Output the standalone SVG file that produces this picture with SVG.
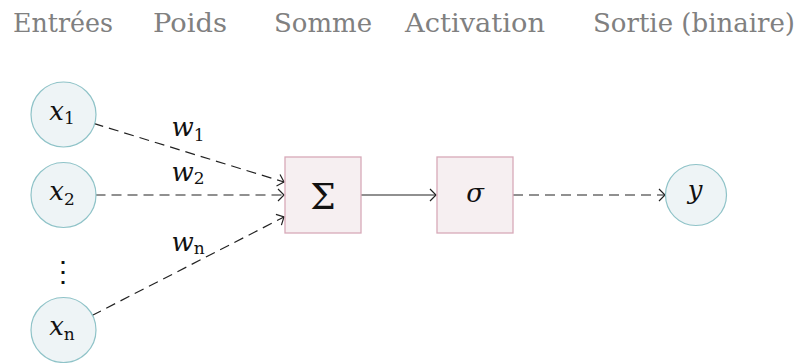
<svg xmlns="http://www.w3.org/2000/svg" width="799" height="363" viewBox="0 0 799 363">
<style>
text{font-family:'DejaVu Serif',serif}
.hdr{font-size:26px;fill:#808080;text-anchor:middle}
.m{font-style:italic;font-size:26px;fill:#111;text-anchor:middle}
.sub{font-style:normal;font-size:17px}
.inp{fill:#eef4f6;stroke:#8fc3c8;stroke-width:1.2}
.box{fill:#f6eff1;stroke:#d8a9b8;stroke-width:1.3}
.edge{fill:none;stroke:#222;stroke-width:1.2}
.dash{stroke-dasharray:10 6}
</style>
<defs>
<marker id="to" markerUnits="userSpaceOnUse" markerWidth="14" markerHeight="16" viewBox="-8 -8 10 16" refX="0" refY="0" orient="auto">
<path d="M -6 -6 Q -1.5 -1.5 0 0 Q -1.5 1.5 -6 6" fill="none" stroke="#222" stroke-width="1.2" stroke-dasharray="none"/>
</marker>
</defs>
<g id="headers">
<text class="hdr" x="63" y="32" textLength="100" lengthAdjust="spacingAndGlyphs">Entrées</text>
<text class="hdr" x="190" y="32" textLength="74" lengthAdjust="spacingAndGlyphs">Poids</text>
<text class="hdr" x="323" y="32" textLength="98" lengthAdjust="spacingAndGlyphs">Somme</text>
<text class="hdr" x="475" y="32" textLength="140" lengthAdjust="spacingAndGlyphs">Activation</text>
<text class="hdr" x="694" y="32" textLength="202" lengthAdjust="spacingAndGlyphs">Sortie (binaire)</text>
</g>
<g id="connectors">
<path class="edge dash" d="M 93.6 123.4 L 284 182" marker-end="url(#to)"/>
<path class="edge dash" d="M 95.5 195 L 284 195" marker-end="url(#to)"/>
<path class="edge dash" d="M 92 315.5 L 284 217" marker-end="url(#to)"/>
<path class="edge" d="M 361 195 L 436 195" marker-end="url(#to)"/>
<path class="edge dash" d="M 513 195 L 665 195" marker-end="url(#to)"/>
<text class="m" x="188" y="136">w<tspan class="sub" dy="5">1</tspan></text>
<text class="m" x="188" y="181">w<tspan class="sub" dy="3">2</tspan></text>
<text class="m" x="188" y="251">w<tspan class="sub" dy="3">n</tspan></text>
</g>
<g id="x1">
<circle class="inp" cx="63.5" cy="114.5" r="32.5"/>
<text class="m" x="62" y="119.5">x<tspan class="sub" dy="4.5">1</tspan></text>
</g>
<g id="x2">
<circle class="inp" cx="63.5" cy="195" r="32.5"/>
<text class="m" x="62" y="200">x<tspan class="sub" dy="4.5">2</tspan></text>
</g>
<g id="vdots">
<text x="63" y="281" font-size="28" fill="#111" text-anchor="middle">⋮</text>
</g>
<g id="xn">
<circle class="inp" cx="63.5" cy="330" r="32.5"/>
<text class="m" x="62" y="335">x<tspan class="sub" dy="4.5">n</tspan></text>
</g>
<g id="sum">
<rect class="box" x="285" y="157" width="76" height="76"/>
<text x="323" y="209" font-size="36" fill="#111" text-anchor="middle">Σ</text>
</g>
<g id="act">
<rect class="box" x="437" y="157" width="76" height="76"/>
<text class="m" x="475" y="202" font-size="24">σ</text>
</g>
<g id="y">
<circle class="inp" cx="696" cy="195" r="30.5"/>
<text class="m" x="695" y="199">y</text>
</g>
</svg>
